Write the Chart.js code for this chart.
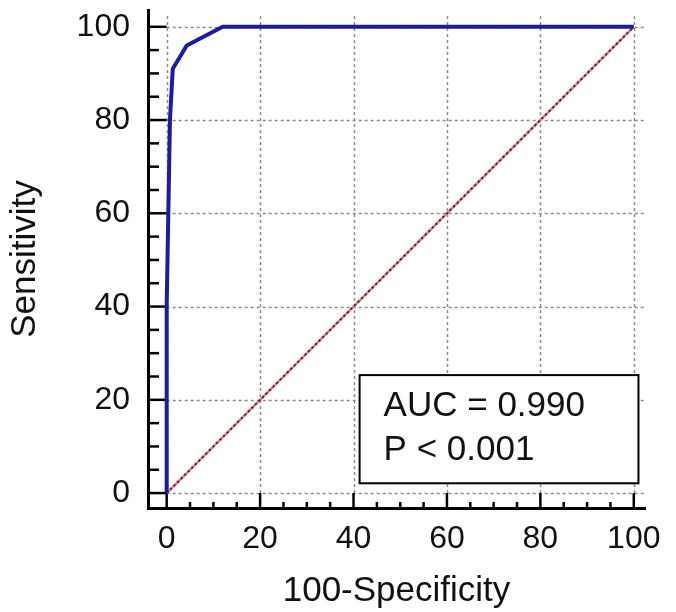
<!DOCTYPE html>
<html>
<head>
<meta charset="utf-8">
<script src="https://cdn.jsdelivr.net/npm/chart.js@4.4.0/dist/chart.umd.min.js"></script>
<style>
  html, body { margin: 0; padding: 0; background: #fff; }
  #wrap { width: 676px; height: 612px; }
</style>
</head>
<body>
<div id="wrap"><canvas id="rocChart" width="676" height="612"></canvas></div>
<script>
// ROC curve points
const specX = [0, 0, 0.7, 1.3, 4.3, 12, 100];
const sensY = [0, 40, 80, 91, 96, 100, 100];
// reference (chance) line
const refX = [0, 100];
const refY = [0, 100];

const majorTicks = [0, 20, 40, 60, 80, 100];
const minorTicks = [5, 10, 15, 25, 30, 35, 45, 50, 55, 65, 70, 75, 85, 90, 95];

const boxLines = ['AUC = 0.990', 'P < 0.001'];

const FONT = '"Liberation Sans", Arial, sans-serif';

function toPoints(xs, ys) {
  return xs.map((x, i) => ({ x: x, y: ys[i] }));
}

// dashed grid, inward ticks and the AUC box
const frame = {
  id: 'frame',
  beforeDatasetsDraw(chart) {
    const ctx = chart.ctx;
    const xs = chart.scales.x, ys = chart.scales.y;
    const area = chart.chartArea;
    ctx.save();
    ctx.strokeStyle = '#8a8a8a';
    ctx.lineWidth = 1.5;
    ctx.setLineDash([3, 3]);
    majorTicks.forEach(v => {
      const px = Math.round(xs.getPixelForValue(v)) + 0.5;
      ctx.beginPath();
      ctx.moveTo(px, ys.getPixelForValue(0));
      ctx.lineTo(px, area.top + 3);
      ctx.stroke();
      const py = Math.round(ys.getPixelForValue(v)) + 0.5;
      ctx.beginPath();
      ctx.moveTo(xs.getPixelForValue(0), py);
      ctx.lineTo(area.right, py);
      ctx.stroke();
    });
    ctx.setLineDash([]);
    // ticks pointing into the plot
    ctx.strokeStyle = '#000';
    ctx.lineWidth = 2.5;
    const left = area.left, bottom = area.bottom;
    const x0 = xs.getPixelForValue(0), y0 = ys.getPixelForValue(0);
    majorTicks.forEach(v => {
      const py = ys.getPixelForValue(v);
      ctx.beginPath(); ctx.moveTo(left, py); ctx.lineTo(x0, py); ctx.stroke();
      const px = xs.getPixelForValue(v);
      ctx.beginPath(); ctx.moveTo(px, bottom); ctx.lineTo(px, y0); ctx.stroke();
    });
    minorTicks.forEach(v => {
      const py = ys.getPixelForValue(v);
      ctx.beginPath(); ctx.moveTo(left, py); ctx.lineTo(left + 11, py); ctx.stroke();
      const px = xs.getPixelForValue(v);
      ctx.beginPath(); ctx.moveTo(px, bottom); ctx.lineTo(px, bottom - 6); ctx.stroke();
    });
    ctx.restore();
  },
  afterDatasetsDraw(chart) {
    const ctx = chart.ctx;
    const xs = chart.scales.x, ys = chart.scales.y;
    const bx1 = xs.getPixelForValue(41.3), bx2 = xs.getPixelForValue(101);
    const by1 = ys.getPixelForValue(25.3), by2 = ys.getPixelForValue(2.1);
    ctx.save();
    ctx.fillStyle = '#fff';
    ctx.fillRect(bx1, by1, bx2 - bx1, by2 - by1);
    ctx.strokeStyle = '#000';
    ctx.lineWidth = 2;
    ctx.strokeRect(bx1, by1, bx2 - bx1, by2 - by1);
    ctx.fillStyle = '#111';
    ctx.font = '35px ' + FONT;
    ctx.textBaseline = 'alphabetic';
    ctx.fillText(boxLines[0], bx1 + 24, by1 + 41);
    ctx.fillText(boxLines[1], bx1 + 24, by1 + 85);
    ctx.restore();
  }
};

const ctx = document.getElementById('rocChart').getContext('2d');
const rocChart = new Chart(ctx, {
  type: 'line',
  data: {
    datasets: [
      {
        data: toPoints(refX, refY),
        borderColor: '#e27a7a',
        borderWidth: 2.5,
        pointRadius: 0,
        order: 3
      },
      {
        data: toPoints(refX, refY),
        borderColor: '#4a2424',
        borderWidth: 2,
        borderDash: [2, 3],
        pointRadius: 0,
        order: 2
      },
      {
        data: toPoints(specX, sensY),
        borderColor: '#1c1c9c',
        borderWidth: 4,
        pointRadius: 0,
        tension: 0,
        order: 1
      }
    ]
  },
  options: {
    responsive: false,
    animation: false,
    layout: { padding: { top: 10, right: 31, left: 0, bottom: 0 } },
    plugins: { legend: { display: false }, tooltip: { enabled: false } },
    scales: {
      x: {
        type: 'linear',
        min: -4,
        max: 102.4,
        afterBuildTicks: s => { s.ticks = majorTicks.map(v => ({ value: v })); },
        afterFit: s => { s.height = 104; s.paddingLeft = 0; s.paddingRight = 0; },
        grid: { drawOnChartArea: false, drawTicks: false },
        border: { display: true, color: '#000', width: 3 },
        ticks: {
          color: '#111',
          padding: 12,
          maxRotation: 0,
          font: { family: FONT, size: 32 }
        },
        title: {
          display: true,
          text: '100-Specificity',
          color: '#111',
          padding: { top: 8, bottom: 0 },
          font: { family: FONT, size: 35 }
        }
      },
      y: {
        type: 'linear',
        min: -3.2,
        max: 103.6,
        afterBuildTicks: s => { s.ticks = majorTicks.map(v => ({ value: v })); },
        afterFit: s => { s.width = 148; s.paddingTop = 0; s.paddingBottom = 0; },
        grid: { drawOnChartArea: false, drawTicks: false },
        border: { display: true, color: '#000', width: 3 },
        ticks: {
          color: '#111',
          padding: 18,
          font: { family: FONT, size: 32 }
        },
        title: {
          display: true,
          text: 'Sensitivity',
          color: '#111',
          padding: { top: 4, bottom: 0 },
          font: { family: FONT, size: 35 }
        }
      }
    }
  },
  plugins: [frame]
});
</script>
</body>
</html>
